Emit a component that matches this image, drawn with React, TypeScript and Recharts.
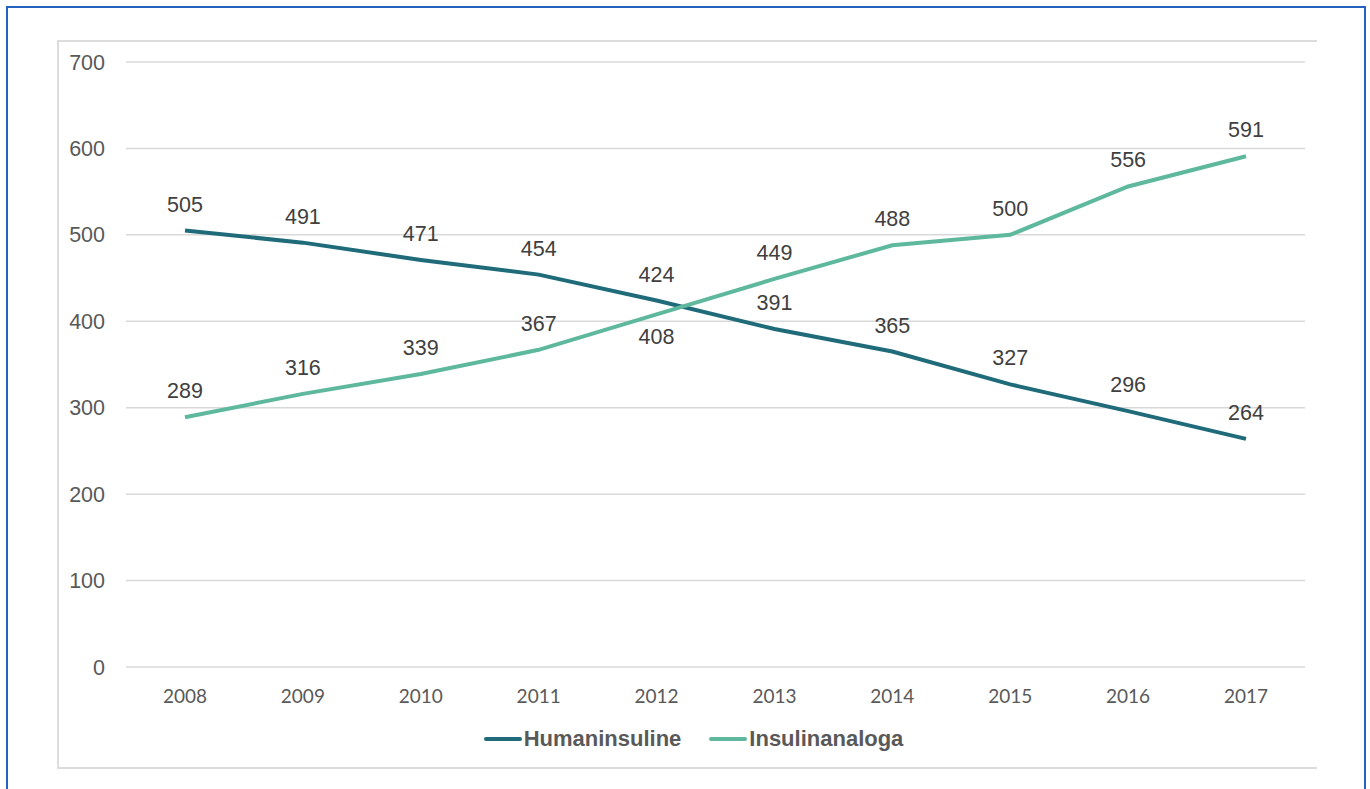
import {
  CartesianGrid,
  LabelList,
  Line,
  LineChart,
  XAxis,
  YAxis,
} from "recharts";

const years = ["2008", "2009", "2010", "2011", "2012", "2013", "2014", "2015", "2016", "2017"];
const humaninsuline = [505, 491, 471, 454, 424, 391, 365, 327, 296, 264];
const insulinanaloga = [289, 316, 339, 367, 408, 449, 488, 500, 556, 591];
const yTicks = [0, 100, 200, 300, 400, 500, 600, 700];
// indices where the value label sits under the point instead of above
const analogaBelow = [4];

const darkTeal = "#1f6b7a";
const lightTeal = "#5eb89d";

const chartData = years.map((year, i) => ({
  year,
  humaninsuline: humaninsuline[i],
  insulinanaloga: insulinanaloga[i],
}));

const makeLabel = (below: number[]) => (props: any) => {
  const { x, y, value, index } = props;
  const under = below.includes(index);
  return (
    <text
      x={x}
      y={under ? y + 23 : y - 26}
      textAnchor="middle"
      dominantBaseline="central"
      fontFamily="'Liberation Sans', Arial, sans-serif"
      fontSize={21.5}
      fill="#404040"
    >
      {value}
    </text>
  );
};

function LegendRow() {
  const items = [
    { name: "Humaninsuline", color: darkTeal },
    { name: "Insulinanaloga", color: lightTeal },
  ];
  return (
    <div
      style={{
        position: "absolute",
        left: 0,
        top: 726,
        width: 1370,
        display: "flex",
        justifyContent: "center",
        gap: 28,
        fontFamily: "'Liberation Sans', Arial, sans-serif",
        fontWeight: "bold",
        fontSize: 22,
        color: "#595959",
        paddingLeft: 17,
        boxSizing: "border-box",
      }}
    >
      {items.map((item) => (
        <div key={item.name} style={{ display: "flex", alignItems: "center" }}>
          <span
            style={{
              display: "inline-block",
              width: 38,
              height: 4,
              borderRadius: 2,
              background: item.color,
              marginRight: 2,
            }}
          />
          <span>{item.name}</span>
        </div>
      ))}
    </div>
  );
}

export default function App() {
  return (
    <div style={{ position: "absolute", left: 0, top: 0, width: 1370, height: 789, overflow: "hidden", background: "#fff" }}>
      <div
        style={{
          position: "absolute",
          left: 6,
          top: 6,
          width: 1356,
          height: 820,
          border: "2px solid #2462bd",
        }}
      />
      <div
        style={{
          position: "absolute",
          left: 57,
          top: 40,
          width: 1258,
          height: 725,
          borderLeft: "2px solid #dcdcdc",
          borderTop: "2px solid #dcdcdc",
          borderBottom: "2px solid #dcdcdc",
        }}
      />
      <div style={{ position: "absolute", left: 0, top: 0 }}>
        <LineChart
          width={1370}
          height={789}
          data={chartData}
          margin={{ top: 62, right: 65, bottom: 92, left: 66 }}
        >
          <CartesianGrid vertical={false} stroke="#d9d9d9" strokeWidth={1.5} />
          <XAxis
            dataKey="year"
            axisLine={false}
            tickLine={false}
            tickSize={0}
            tickMargin={23}
            height={30}
            padding={{ left: 59, right: 59 }}
            tick={{ fontSize: 19, fill: "#595959", fontFamily: "Lato, 'Open Sans', sans-serif" }}
          />
          <YAxis
            domain={[0, 700]}
            ticks={yTicks}
            axisLine={false}
            tickLine={false}
            tickSize={0}
            tickMargin={21}
            width={60}
            tick={{ fontSize: 21.5, fill: "#595959", fontFamily: "'Liberation Sans', Arial, sans-serif" }}
          />
          <Line
            type="linear"
            dataKey="humaninsuline"
            name="Humaninsuline"
            stroke={darkTeal}
            strokeWidth={4}
            dot={false}
            isAnimationActive={false}
          >
            <LabelList dataKey="humaninsuline" content={makeLabel([])} />
          </Line>
          <Line
            type="linear"
            dataKey="insulinanaloga"
            name="Insulinanaloga"
            stroke={lightTeal}
            strokeWidth={4}
            dot={false}
            isAnimationActive={false}
          >
            <LabelList dataKey="insulinanaloga" content={makeLabel(analogaBelow)} />
          </Line>
        </LineChart>
      </div>
      <LegendRow />
    </div>
  );
}
